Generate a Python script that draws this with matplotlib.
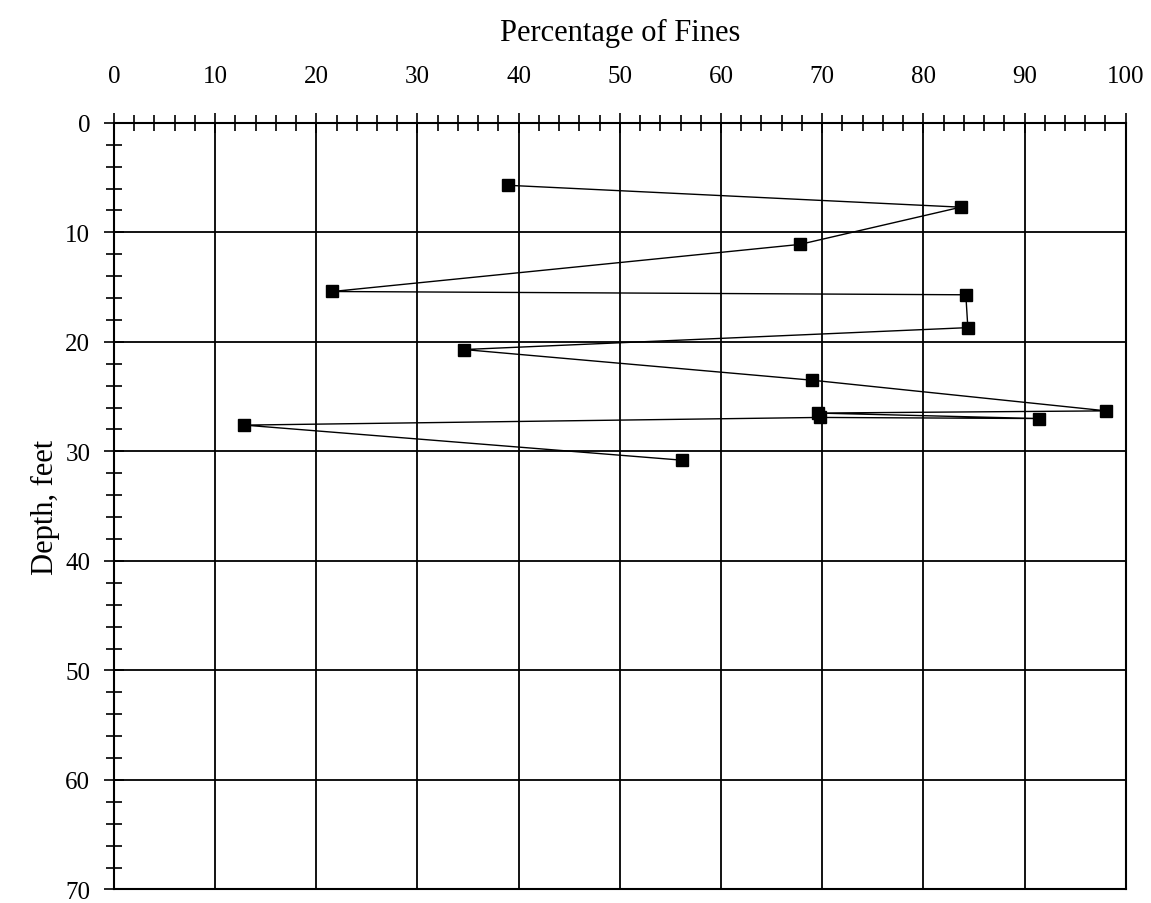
import matplotlib
matplotlib.use("Agg")
import matplotlib.pyplot as plt
from matplotlib.ticker import MultipleLocator

plt.rcParams['font.family'] = ['Liberation Serif', 'DejaVu Serif']

# percentage of fines vs depth (in drawing order)
fines = [38.9, 83.7, 67.8, 21.6, 84.2, 84.4, 34.6, 69.0, 98.1, 69.6, 91.4, 69.8, 12.9, 56.1]
depth = [5.7, 7.7, 11.1, 15.4, 15.7, 18.7, 20.7, 23.5, 26.3, 26.5, 27.0, 26.9, 27.6, 30.8]

x_ticks = list(range(0, 101, 10))
y_ticks = list(range(0, 71, 10))

fig = plt.figure(figsize=(11.51, 9.04), dpi=100)
ax = fig.add_axes([0.099, 0.015, 0.879, 0.848])

ax.plot(fines, depth, color='black', lw=1.0, marker='s', ms=8,
        markerfacecolor='black', markeredgecolor='black', zorder=3)

ax.set_xlim(0, 100)
ax.set_ylim(70, 0)
ax.set_xticks(x_ticks)
ax.set_yticks(y_ticks)
ax.xaxis.set_minor_locator(MultipleLocator(2))
ax.yaxis.set_minor_locator(MultipleLocator(2))

ax.xaxis.tick_top()
ax.xaxis.set_label_position('top')
ax.tick_params(axis='x', which='major', direction='inout', length=14, width=1.2,
               labelsize=18, pad=19)
ax.tick_params(axis='x', which='minor', direction='inout', length=12, width=1.2)
ax.tick_params(axis='y', which='major', direction='inout', length=14, width=1.2,
               labelsize=18, pad=10)
ax.tick_params(axis='y', which='minor', direction='inout', length=12, width=1.2)

ax.grid(True, which='major', color='black', lw=1.3)
for s in ax.spines.values():
    s.set_linewidth(1.5)

ax.set_xlabel('Percentage of Fines', fontsize=22, labelpad=18)
ax.set_ylabel('Depth, feet', fontsize=22, labelpad=4)

fig.savefig('out.png', dpi=100)
